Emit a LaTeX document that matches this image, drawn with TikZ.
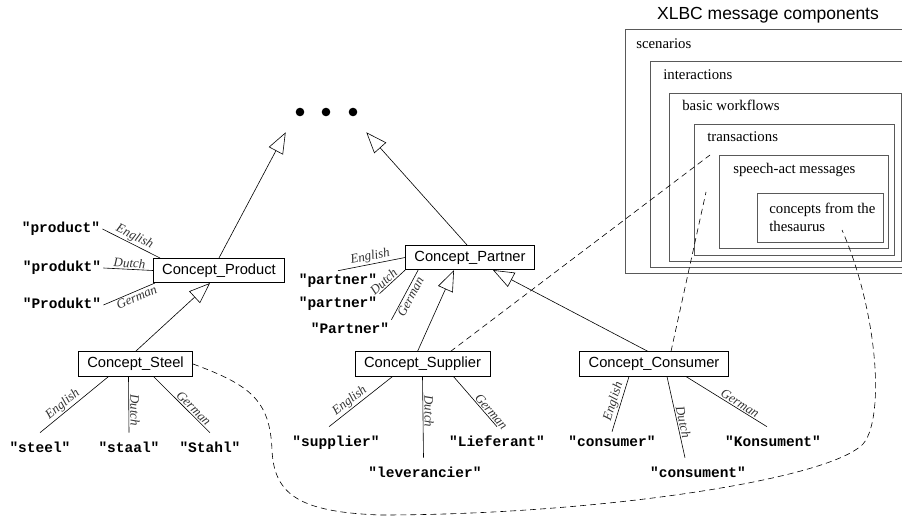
\documentclass[tikz,border=0pt]{standalone}
\usepackage{fontspec}
\setmainfont{Liberation Serif}
\setsansfont{Liberation Sans}
\setmonofont{Liberation Mono}
\usetikzlibrary{arrows.meta}

\tikzset{
  concept/.style={draw, font=\sffamily\fontsize{14.7}{16}\selectfont, minimum height=24.5pt, inner xsep=9pt, text height=10.5pt, text depth=3pt},
  term/.style={font=\ttfamily\bfseries\fontsize{14.5}{16}\selectfont, inner xsep=2pt, inner ysep=10pt, text height=9pt, text depth=3pt},
  lang/.style={font=\itshape\fontsize{13}{14}\selectfont, text=black!80, inner sep=1.2pt, sloped},
  isa/.style={-{Triangle[open, length=21pt, width=16pt]}},
  link/.style={dash pattern=on 6pt off 4pt},
  layer/.style={draw=black!65, line width=0.9pt},
  layername/.style={font=\fontsize{14.8}{19}\selectfont, anchor=base west, inner sep=0pt},
}

\begin{document}
\begin{tikzpicture}[x=1pt, y=-1pt, line width=0.6pt]
    \useasboundingbox (0,0) rectangle (902,516);

    % message components
    \node[font=\sffamily\fontsize{17.5}{20}\selectfont] (title) at (768,15) {XLBC message components};
    \draw[layer] (625,29) rectangle (912,273);
    \draw[layer] (650,61) rectangle (908,267);
    \draw[layer] (669,93) rectangle (901,261);
    \draw[layer] (694,124) rectangle (894,255);
    \draw[layer] (719,155) rectangle (888,248);
    \draw[layer] (757,193) rectangle (883,242);
    \node[layername] (scen) at (636,48.5) {scenarios};
    \node[layername] (inter) at (663,80) {interactions};
    \node[layername] (basic) at (682,110.5) {basic workflows};
    \node[layername] (trans) at (707,141.5) {transactions};
    \node[layername] (speech) at (733,173.5) {speech-act messages};
    \node[layername] (conc) at (769,213) {concepts from the};
    \node[layername] (thes) at (769,231.5) {thesaurus};

    % concepts
    \node[minimum width=80pt, minimum height=40pt, inner sep=0pt] (more) at (326,112) {};
    \foreach \dx in {-26,0,27}
        \fill ([xshift=\dx pt]more.center) circle (4.3pt);
    \node[concept] (product) at (219,270.5) {Concept\_Product};
    \node[concept] (partner) at (470,257.5) {Concept\_Partner};
    \node[concept] (steel) at (135.5,364) {Concept\_Steel};
    \node[concept] (supplier) at (422.5,364) {Concept\_Supplier};
    \node[concept] (consumer) at (654,364) {Concept\_Consumer};

    \draw[isa] (product.north) -- (more.south west);
    \draw[isa] ([xshift=-3pt]partner.north) -- (more.south east);
    \draw[isa] (steel.north) -- ([xshift=-9pt]product.south);
    \draw[isa] ([xshift=-5pt]supplier.north) -- ([xshift=-16pt]partner.south);
    \draw[isa] ([xshift=-6pt]consumer.north) -- ([xshift=23pt]partner.south);

    % terms
    \node[term] (pEn) at (61,229) {"product"};
    \node[term] (pDu) at (62,268) {"produkt"};
    \node[term] (pGe) at (62,305) {"Produkt"};
    \draw ([xshift=7pt]product.north west) -- (pEn.east) node[lang, above, pos=0.5] {English};
    \draw (product.west) -- (pDu.east) node[lang, above, pos=0.48] {Dutch};
    \draw ([xshift=2pt]product.south west) -- (pGe.east) node[lang, below, pos=0.4] {German};

    \node[term, inner ysep=4pt] (ptEn) at (338,281) {"partner"};
    \node[term, inner ysep=4pt] (ptDu) at (338,304) {"partner"};
    \node[term, inner ysep=4pt] (ptGe) at (350,330) {"Partner"};
    \draw (partner.west) -- (ptEn.north) node[lang, above, pos=0.5] {English};
    \draw (partner.south west) -- (ptDu.north east) node[lang, above, pos=0.68] {Dutch};
    \draw ([xshift=13pt]partner.south west) -- (ptGe.north east) node[lang, below, pos=0.48] {German};

    \node[term] (stEn) at (40,449) {"steel"};
    \node[term] (stDu) at (129,449) {"staal"};
    \node[term] (stGe) at (210,449) {"Stahl"};
    \draw ([xshift=-27pt]steel.south) -- (stEn.north) node[lang, above, pos=0.6] {English};
    \draw ([xshift=-7pt]steel.south) -- (stDu.north) node[lang, above, pos=0.6] {Dutch};
    \draw ([xshift=18pt]steel.south) -- (stGe.north) node[lang, above, pos=0.64] {German};

    \node[term] (suEn) at (336,443) {"supplier"};
    \node[term] (suDu) at (425,474) {"leverancier"};
    \node[term] (suGe) at (497,443) {"Lieferant"};
    \draw ([xshift=-30pt]supplier.south) -- ([xshift=-7pt]suEn.north) node[lang, above, pos=0.6] {English};
    \draw (supplier.south) -- ([xshift=-1.5pt]suDu.north) node[lang, above, pos=0.43] {Dutch};
    \draw ([xshift=31pt]supplier.south) -- (suGe.north) node[lang, above, pos=0.77] {German};

    \node[term] (coEn) at (612,443) {"consumer"};
    \node[term] (coDu) at (698,474) {"consument"};
    \node[term] (coGe) at (773,443) {"Konsument"};
    \draw ([xshift=-25pt]consumer.south) -- ([yshift=-5pt]coEn.north) node[lang, above, pos=0.49] {English};
    \draw ([xshift=13pt]consumer.south) -- ([xshift=-13pt]coDu.north) node[lang, above, pos=0.58] {Dutch};
    \draw ([xshift=32pt]consumer.south) -- ([xshift=-6pt]coGe.north) node[lang, above, pos=0.63] {German};

    % links to the message components
    \coordinate (thx) at (842,230);
    \coordinate (tra) at (710,155);
    \coordinate (spa) at (706,192);
    \draw[link] (steel.east) .. controls (250,385) and (270,400) .. (272,450)
        .. controls (274,495) and (300,512) .. (380,515)
        .. controls (600,515) and (845,478) .. (866,440)
        .. controls (885,406) and (875,305) .. (thx);
    \draw[link] ([xshift=28pt]supplier.north) -- (tra);
    \draw[link] ([xshift=17pt]consumer.north) -- (spa);
\end{tikzpicture}
\end{document}
